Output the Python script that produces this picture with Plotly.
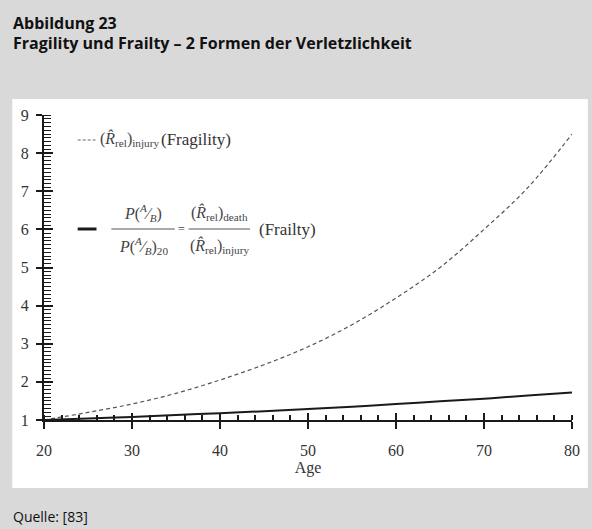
import plotly.graph_objects as go

# Data
age = [20, 25, 30, 35, 40, 45, 50, 55, 60, 65, 70, 75, 80]
fragility = [1.0, 1.2, 1.42, 1.7, 2.05, 2.45, 2.92, 3.5, 4.2, 5.0, 6.0, 7.1, 8.5]
frailty = [1.0, 1.04, 1.08, 1.13, 1.18, 1.23, 1.29, 1.35, 1.42, 1.49, 1.56, 1.64, 1.72]

x_ticks = [20, 30, 40, 50, 60, 70, 80]
y_ticks = [1, 2, 3, 4, 5, 6, 7, 8, 9]

title_lines = ["Abbildung 23", "Fragility und Frailty – 2 Formen der Verletzlichkeit"]
source_text = "Quelle: [83]"

W, H = 592, 529
L, R, T, B = 44, 15, 115, 109
PW, PH = W - L - R, H - T - B


def px(x):
    return (x - L) / PW


def py(y):
    return (H - B - y) / PH


SERIF = "Liberation Serif, Times New Roman, serif"
SANS = "Liberation Sans Narrow, Open Sans, sans-serif"
INK = "#1a1a1a"

fig = go.Figure()

fig.add_trace(go.Scatter(
    x=age, y=fragility, mode="lines", line_shape="spline",
    line=dict(color="#555555", width=1.2, dash="4px,3px"),
    name="Fragility", hoverinfo="skip"
))
fig.add_trace(go.Scatter(
    x=age, y=frailty, mode="lines", line_shape="spline",
    line=dict(color=INK, width=2),
    name="Frailty", hoverinfo="skip"
))
# invisible trace so the overlay axes (inner half of major ticks) render
fig.add_trace(go.Scatter(x=[age[0]], y=[frailty[0]], xaxis="x2", yaxis="y2",
                         mode="markers", marker=dict(opacity=0), hoverinfo="skip"))

axis_font = dict(family=SERIF, size=16, color="#333333")

fig.update_layout(
    width=W, height=H,
    margin=dict(l=L, r=R, t=T, b=B),
    paper_bgcolor="#d9d9d9",
    plot_bgcolor="white",
    showlegend=False,
    xaxis=dict(
        range=[20, 80], tickvals=x_ticks, ticks="outside", ticklen=7, tickwidth=2,
        tickcolor=INK, showline=True, linecolor=INK, linewidth=2, showgrid=False,
        zeroline=False, tickfont=axis_font, ticklabelstandoff=8,
        minor=dict(dtick=2, ticks="inside", ticklen=5, tickwidth=1.5, tickcolor=INK),
        title=dict(text="Age", font=axis_font, standoff=2),
    ),
    yaxis=dict(
        range=[1, 9], tickvals=y_ticks, ticks="outside", ticklen=6, tickwidth=2,
        tickcolor=INK, showline=True, linecolor=INK, linewidth=2, showgrid=False,
        zeroline=False, tickfont=axis_font, ticklabelstandoff=4,
        minor=dict(dtick=0.1, ticks="inside", ticklen=7, tickwidth=1.2, tickcolor=INK),
    ),
    xaxis2=dict(range=[20, 80], overlaying="x", tickvals=x_ticks, ticks="inside",
                ticklen=7, tickwidth=2, tickcolor=INK, showticklabels=False,
                showgrid=False, zeroline=False, showline=False),
    yaxis2=dict(range=[1, 9], overlaying="y", tickvals=y_ticks, ticks="inside",
                ticklen=9, tickwidth=2, tickcolor=INK, showticklabels=False,
                showgrid=False, zeroline=False, showline=False),
)

shapes = [
    # white content panel
    dict(type="rect", xref="paper", yref="paper", x0=px(12), x1=px(593),
         y0=py(488), y1=py(99), fillcolor="white", line_width=0, layer="below"),
    # legend keys
    dict(type="line", xref="paper", yref="paper", x0=px(78), x1=px(96),
         y0=py(140), y1=py(140), line=dict(color="#666666", width=1, dash="3px,2px")),
    dict(type="line", xref="paper", yref="paper", x0=px(78), x1=px(97),
         y0=py(229), y1=py(229), line=dict(color=INK, width=3)),
    # fraction bars
    dict(type="line", xref="paper", yref="paper", x0=px(112), x1=px(176),
         y0=py(229), y1=py(229), line=dict(color="#555555", width=1)),
    dict(type="line", xref="paper", yref="paper", x0=px(190), x1=px(252),
         y0=py(229), y1=py(229), line=dict(color="#555555", width=1)),
]
fig.update_layout(shapes=shapes)

formula_font = dict(family=SERIF, size=16, color="#444444")
label_font = dict(family=SERIF, size=17, color="#333333")


def note(x, y, text, font, xanchor="center"):
    fig.add_annotation(x=px(x), y=py(y), xref="paper", yref="paper", text=text,
                       showarrow=False, font=font, xanchor=xanchor, yanchor="middle",
                       align="left")


title_font = dict(family=SANS, size=16, color="#111111")
note(11, 23, "<b>" + title_lines[0] + "</b>", title_font, xanchor="left")
note(11, 43, "<b>" + title_lines[1] + "</b>", title_font, xanchor="left")
note(11, 516, source_text, dict(family=SANS, size=14, color="#111111"), xanchor="left")

note(99, 139, "(<i>R̂</i><sub>rel</sub>)<sub>injury</sub>", formula_font, xanchor="left")
note(160, 139, "(Fragility)", label_font, xanchor="left")

note(144, 213, "<i>P</i>(<sup><i>A</i></sup>⁄<sub><i>B</i></sub>)", formula_font)
note(144, 246, "<i>P</i>(<sup><i>A</i></sup>⁄<sub><i>B</i></sub>)<sub>20</sub>", formula_font)
note(183, 229, "=", dict(family=SERIF, size=12, color="#444444"))
note(221, 213, "(<i>R̂</i><sub>rel</sub>)<sub>death</sub>", formula_font)
note(221, 246, "(<i>R̂</i><sub>rel</sub>)<sub>injury</sub>", formula_font)
note(259, 229, "(Frailty)", label_font, xanchor="left")

fig.write_html("out.html", config={"displayModeBar": False},
               post_script="document.body.style.margin='0';")
